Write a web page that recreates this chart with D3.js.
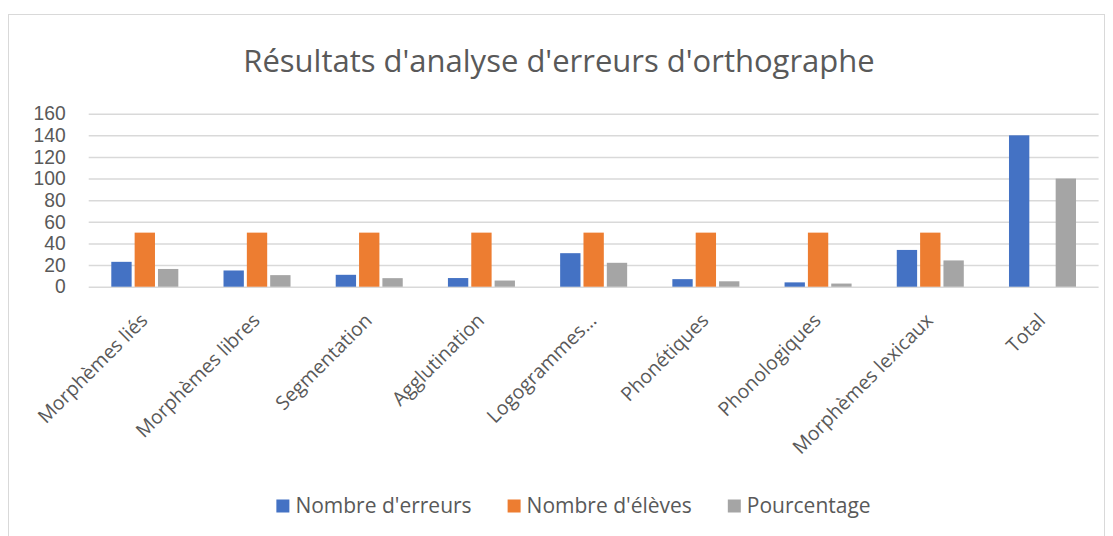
<!DOCTYPE html>
<html>
<head>
<meta charset="utf-8">
<script src="https://cdn.jsdelivr.net/npm/d3@7/dist/d3.min.js"></script>
<style>
  html, body { margin: 0; padding: 0; background: #fff; }
  svg { display: block; }
  text { font-family: "Open Sans", sans-serif; fill: #595959; }
</style>
</head>
<body>
<svg id="chart" width="1113" height="536"></svg>
<script>
const categories = ["Morphèmes liés", "Morphèmes libres", "Segmentation", "Agglutination", "Logogrammes…", "Phonétiques", "Phonologiques", "Morphèmes lexicaux", "Total"];
const nombreErreurs = [23, 15, 11, 8, 31, 7, 4, 34, 140];
const nombreEleves = [50, 50, 50, 50, 50, 50, 50, 50, null];
const pourcentage = [16.4, 10.7, 7.9, 5.7, 22.1, 5.0, 2.9, 24.3, 100];
const seriesNames = ["Nombre d'erreurs", "Nombre d'élèves", "Pourcentage"];
const seriesColors = ["#4472C4", "#ED7D31", "#A5A5A5"];
const yTicks = [0, 20, 40, 60, 80, 100, 120, 140, 160];
const titleText = "Résultats d'analyse d'erreurs d'orthographe";

const seriesValues = [nombreErreurs, nombreEleves, pourcentage];
const svg = d3.select("#chart");

// frame
svg.append("rect")
  .attr("x", 8.5).attr("y", 14.5).attr("width", 1096).attr("height", 540)
  .attr("fill", "#fff").attr("stroke", "#d9d9d9").attr("stroke-width", 1);

const x0 = d3.scaleBand().domain(categories).range([88.7, 1098.6]).paddingInner(0.376).paddingOuter(0.188);
const x1 = d3.scaleBand().domain(seriesNames).range([0, x0.bandwidth()]);
const y = d3.scaleLinear().domain([0, 160]).range([286.7, 113.7]);

// title
svg.append("text")
  .attr("x", 559).attr("y", 71.5)
  .attr("text-anchor", "middle")
  .style("font-size", "31px")
  .text(titleText);

// gridlines + y labels
const yAxis = d3.axisLeft(y).tickValues(yTicks).tickSize(-(1098.6 - 88.7)).tickPadding(23);
const gy = svg.append("g").attr("transform", "translate(88.7,0)").call(yAxis);
gy.select(".domain").remove();
gy.selectAll(".tick line").attr("stroke", "#d9d9d9").attr("stroke-width", 1.5);
gy.selectAll(".tick text")
  .style("font-size", "19.3px")
  .style("font-family", "'Liberation Sans', Arial, sans-serif")
  .attr("fill", "#595959");

// bars
const groups = svg.append("g").selectAll("g")
  .data(categories)
  .join("g")
  .attr("transform", d => `translate(${x0(d)},0)`);

groups.selectAll("rect")
  .data((d, i) => seriesNames.map((s, j) => ({ s, v: seriesValues[j][i], c: seriesColors[j] })).filter(o => o.v != null))
  .join("rect")
  .attr("x", d => x1(d.s) + 1.5)
  .attr("width", x1.bandwidth() - 3)
  .attr("y", d => y(d.v))
  .attr("height", d => y(0) - y(d.v))
  .attr("fill", d => d.c);

// x labels
const xAxis = d3.axisBottom(x0).tickSize(0).tickPadding(0);
const gx = svg.append("g").attr("transform", `translate(0,${y(0)})`).call(xAxis);
gx.select(".domain").remove();
gx.selectAll(".tick text")
  .attr("text-anchor", "end")
  .attr("dy", null)
  .attr("y", 0)
  .attr("transform", "translate(4,35) rotate(-45)")
  .style("font-size", "19.5px")
  .style("font-family", "Open Sans")
  .attr("fill", "#595959");

// legend
const legend = svg.append("g");
const items = legend.selectAll("g").data(seriesNames).join("g");
items.append("rect").attr("width", 13).attr("height", 13).attr("y", -6.5).attr("fill", (d, i) => seriesColors[i]);
items.append("text").attr("x", 19).attr("dy", "0.35em").style("font-size", "21px").text(d => d);
const widths = [];
items.each(function () { widths.push(19 + d3.select(this).select("text").node().getComputedTextLength()); });
const gap = 36;
const total = d3.sum(widths) + gap * (widths.length - 1);
let start = 573.5 - total / 2;
items.attr("transform", (d, i) => {
  const t = `translate(${start},506)`;
  start += widths[i] + gap;
  return t;
});
</script>
</body>
</html>
